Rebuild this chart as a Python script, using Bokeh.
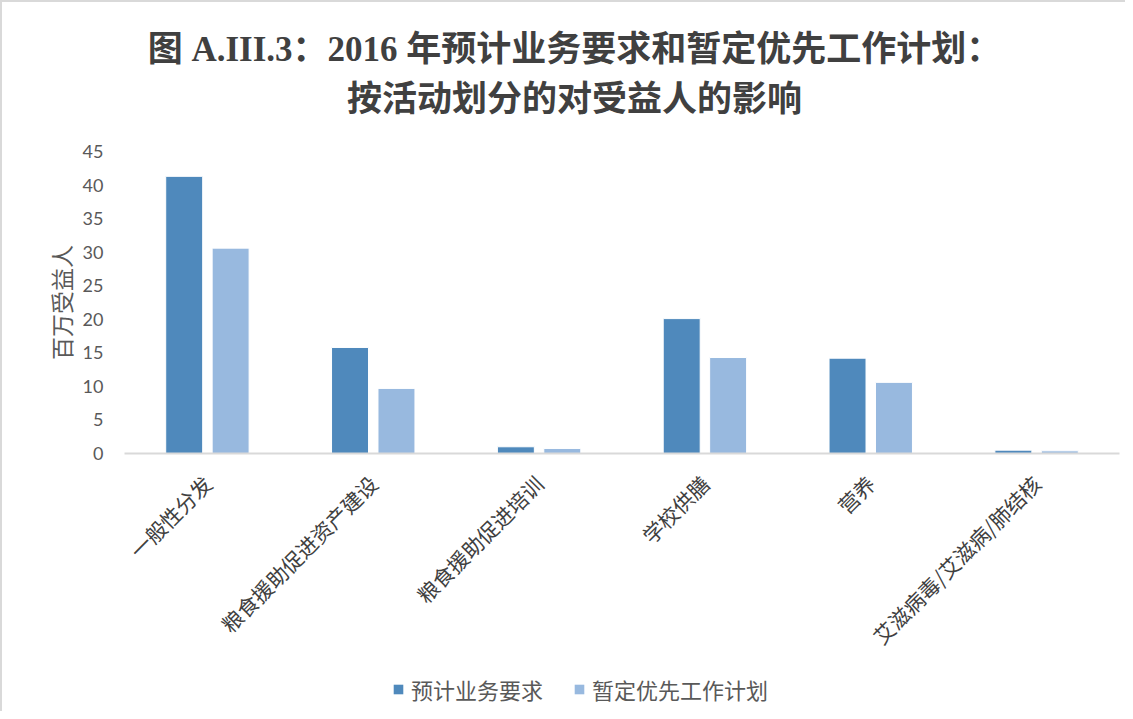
import math
from bokeh.plotting import figure
from bokeh.layouts import column
from bokeh.models import ColumnDataSource, Label, Legend, LegendItem, FactorRange
from bokeh.transform import dodge
from bokeh.embed import file_html
from bokeh.resources import INLINE

categories = ["一般性分发", "粮食援助促进资产建设", "粮食援助促进培训", "学校供膳", "营养", "艾滋病毒/艾滋病/肺结核"]
series_names = ["预计业务要求", "暂定优先工作计划"]
projected = [41.3, 15.8, 1.0, 20.1, 14.2, 0.5]
provisional = [30.6, 9.7, 0.75, 14.3, 10.6, 0.4]
y_ticks = [0, 5, 10, 15, 20, 25, 30, 35, 40, 45]

title_1 = "图 A.III.3：2016 年预计业务要求和暂定优先工作计划："
title_2 = "按活动划分的对受益人的影响"
y_label = "百万受益人"

dark = "#4f89bc"
light = "#98b9df"
CJK = "Noto Sans CJK SC"
BORDER = "2px solid #d9d9d9"

W = 1125
H_TITLE, H_MAIN, H_LEG = 125, 540, 46


def blank(fig):
    fig.axis.visible = False
    fig.grid.visible = False
    fig.outline_line_color = None
    fig.background_fill_color = "white"
    fig.border_fill_color = "white"


# ---- title strip (frame is aligned with the main chart's frame by the column layout)
tf = figure(width=W, height=H_TITLE, output_backend="svg", toolbar_location=None,
            x_range=(0, 1), y_range=(0, 1),
            min_border_left=0, min_border_right=0, min_border_top=0, min_border_bottom=0)
tf.styles = {"border-left": BORDER, "border-top": BORDER}
blank(tf)
for txt, yy in [(title_1, 78), (title_2, 28)]:
    tf.add_layout(Label(x=450, y=yy, x_units="screen", y_units="screen", text=txt,
                        text_align="center", text_baseline="middle",
                        text_font="Liberation Serif, Noto Sans CJK SC", text_font_style="bold",
                        text_font_size="35px", text_color="#404040"))

# ---- main chart
src = ColumnDataSource(dict(cat=categories, proj=projected, prov=provisional))
p = figure(x_range=FactorRange(*categories), y_range=(0, 45), width=W, height=H_MAIN,
           output_backend="svg", toolbar_location=None,
           min_border_left=122, min_border_right=8, min_border_top=26, min_border_bottom=212)
p.styles = {"border-left": BORDER}
p.outline_line_color = None
p.background_fill_color = "white"
p.border_fill_color = "white"

r1 = p.vbar(x=dodge("cat", -0.14, range=p.x_range), top="proj", width=0.223, source=src,
            fill_color=dark, line_color="white", line_width=1)
r2 = p.vbar(x=dodge("cat", 0.14, range=p.x_range), top="prov", width=0.223, source=src,
            fill_color=light, line_color="white", line_width=1)

p.xgrid.grid_line_color = None
p.ygrid.grid_line_color = None

p.yaxis.ticker = y_ticks
p.yaxis.axis_line_color = None
p.yaxis.major_tick_line_color = None
p.yaxis.minor_tick_line_color = None
p.yaxis.major_label_text_font = "Lato"
p.yaxis.major_label_text_font_size = "18px"
p.yaxis.major_label_text_color = "#595959"
p.yaxis.major_label_standoff = 15
p.yaxis.axis_label = y_label
p.yaxis.axis_label_text_font = CJK
p.yaxis.axis_label_text_font_style = "normal"
p.yaxis.axis_label_text_font_size = "23px"
p.yaxis.axis_label_text_color = "#595959"
p.yaxis.axis_label_standoff = 2

p.xaxis.axis_line_color = "#d9d9d9"
p.xaxis.axis_line_width = 2
p.xaxis.major_tick_line_color = None
p.xaxis.minor_tick_line_color = None
p.xaxis.major_label_orientation = math.pi / 4
p.xaxis.major_label_text_font = CJK
p.xaxis.major_label_text_font_size = "21px"
p.xaxis.major_label_text_color = "#404040"
p.xaxis.major_label_standoff = 20

# ---- legend strip
lf = figure(width=W, height=H_LEG, output_backend="svg", toolbar_location=None,
            x_range=(0, 1), y_range=(0, 1),
            min_border_left=0, min_border_right=0, min_border_top=0, min_border_bottom=0)
lf.styles = {"border-left": BORDER}
blank(lf)
# zero-height swatch renderers (never visible), only used by the legend
d1 = lf.vbar(x=0, top=0, bottom=0, width=0, fill_color=dark, line_color=None)
d2 = lf.vbar(x=0, top=0, bottom=0, width=0, fill_color=light, line_color=None)
legend = Legend(items=[LegendItem(label=series_names[0], renderers=[d1]),
                       LegendItem(label=series_names[1], renderers=[d2])],
                orientation="horizontal", location=(268, 6),
                label_text_font=CJK, label_text_font_size="22px", label_text_color="#595959",
                glyph_width=12, glyph_height=12, spacing=30, label_standoff=7,
                border_line_color=None, background_fill_alpha=0, margin=0, padding=0)
lf.add_layout(legend, "center")

layout = column(tf, p, lf, spacing=0)
open("out.html", "w").write(file_html(layout, INLINE))
